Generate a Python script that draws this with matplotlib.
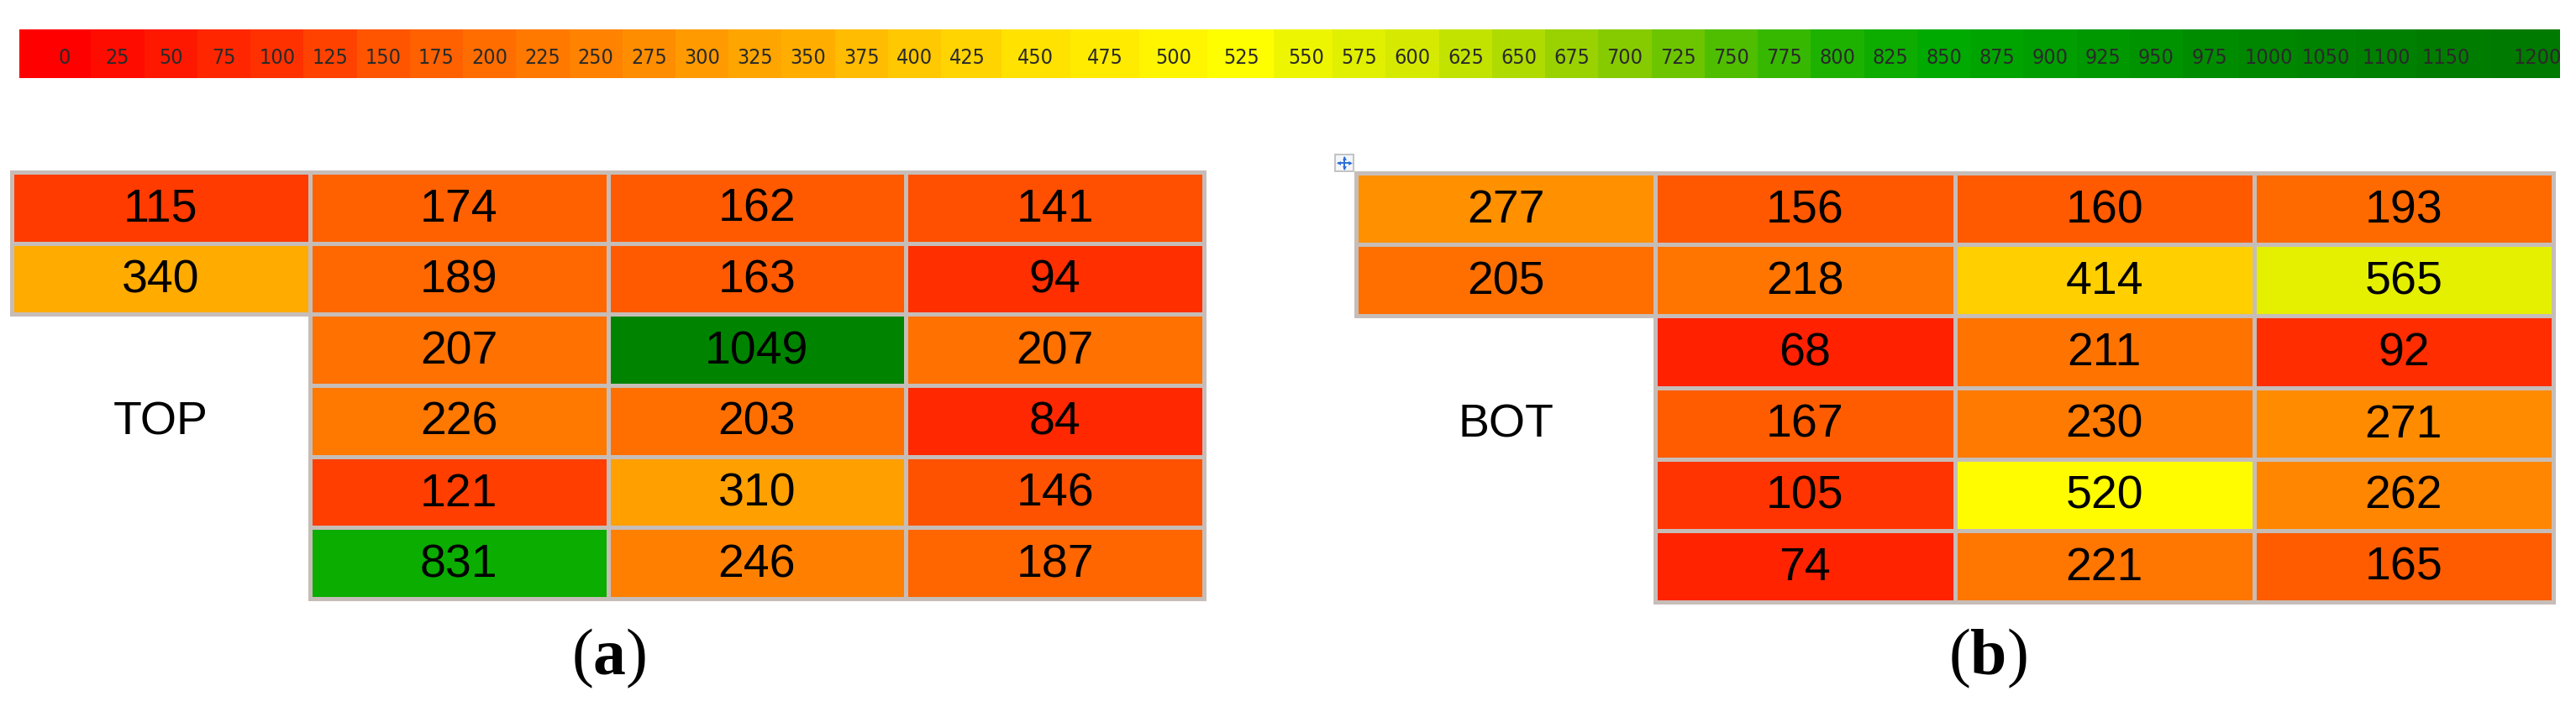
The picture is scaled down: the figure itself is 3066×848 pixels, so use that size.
import numpy as np
import matplotlib
matplotlib.use('Agg')
import matplotlib.pyplot as plt
from matplotlib.colors import LinearSegmentedColormap, Normalize
from matplotlib import font_manager
from matplotlib.patches import Rectangle

# ---------------- data ----------------
scale_labels = [0, 25, 50, 75, 100, 125, 150, 175, 200, 225, 250, 275, 300, 325, 350,
                375, 400, 425, 450, 475, 500, 525, 550, 575, 600, 625, 650, 675, 700,
                725, 750, 775, 800, 825, 850, 875, 900, 925, 950, 975, 1000, 1050,
                1100, 1150, 1200]

nan = np.nan
top_values = [[115, 174, 162, 141],
              [340, 189, 163, 94],
              [nan, 207, 1049, 207],
              [nan, 226, 203, 84],
              [nan, 121, 310, 146],
              [nan, 831, 246, 187]]
bot_values = [[277, 156, 160, 193],
              [205, 218, 414, 565],
              [nan, 68, 211, 92],
              [nan, 167, 230, 271],
              [nan, 105, 520, 262],
              [nan, 74, 221, 165]]
panel_names = ['TOP', 'BOT']
panel_letters = ['a', 'b']

# ---------------- style ----------------
W, H = 3066, 848
stop_vals = [0, 100, 150, 200, 250, 300, 350, 400, 450, 525, 565, 600, 700, 800, 850, 1000, 1200]
stop_cols = [(255, 0, 0), (255, 50, 0), (255, 85, 0), (255, 110, 0), (255, 130, 0),
             (255, 155, 0), (255, 175, 0), (255, 200, 0), (255, 225, 0), (255, 255, 0),
             (228, 240, 0), (215, 235, 0), (135, 203, 0), (30, 178, 0), (0, 170, 0),
             (0, 135, 0), (0, 122, 0)]
vmin, vmax = 0, 1200
cmap = LinearSegmentedColormap.from_list(
    'rdylgn_custom',
    [((v - vmin) / (vmax - vmin), tuple(c / 255 for c in col)) for v, col in zip(stop_vals, stop_cols)])
norm = Normalize(vmin, vmax)

# spacing of the scale labels (relative gaps between neighbours)
gaps = [1.0] * 17 + [1.28, 1.31, 1.28, 1.28, 1.22] + [1.0] * 17 + [1.12, 1.07, 1.14, 1.12, 1.72]

# find a narrow / condensed font for the scale labels
narrow_prop = None
cands = font_manager.findSystemFonts()
for key in ['LiberationSansNarrow-Regular', 'DejaVuSansCondensed.', 'Roboto_Condensed-Regular',
            'RobotoCondensed-Regular', 'OpenSans_Condensed-Regular', 'OpenSansCondensed',
            'NotoSans-Condensed.', 'NotoSansDisplay-Condensed', 'Condensed-Regular', 'Narrow']:
    hits = [f for f in cands if key in f.split('/')[-1]]
    if hits:
        narrow_prop = font_manager.FontProperties(fname=sorted(hits)[0])
        break
if narrow_prop is None:
    narrow_prop = font_manager.FontProperties(family='DejaVu Sans')
narrow_prop.set_size(18)

cell_font = 'Liberation Sans'
grid_col = (0.78, 0.74, 0.72)

plt.rcParams['mathtext.fontset'] = 'custom'
plt.rcParams['mathtext.rm'] = 'Liberation Serif'
plt.rcParams['mathtext.bf'] = 'Liberation Serif:bold'

fig = plt.figure(figsize=(W / 100, H / 100), dpi=100)
fig.patch.set_facecolor('white')


def px_axes(x0, y0, x1, y1):
    return fig.add_axes([x0 / W, 1 - y1 / H, (x1 - x0) / W, (y1 - y0) / H])


# ---------------- colour scale bar ----------------
ax_cb = px_axes(23, 35, 3047, 93)
pos = np.concatenate([[0], np.cumsum(gaps)])
left_pad, right_pad = 0.85, 0.43
edges = np.concatenate([[pos[0] - left_pad], (pos[:-1] + pos[1:]) / 2, [pos[-1] + right_pad]])
ax_cb.pcolormesh(edges, [0, 1], np.array([scale_labels], dtype=float), cmap=cmap, norm=norm,
                 shading='flat', edgecolors='none')
ax_cb.set_xlim(edges[0], edges[-1])
ax_cb.set_ylim(0, 1)
for p, lab in zip(pos, scale_labels):
    ax_cb.text(p, 0.42, str(lab), ha='center', va='center', fontproperties=narrow_prop,
               color='#2a2a2a')
ax_cb.axis('off')

# ---------------- tables ----------------
table_boxes = [(14, 205, 1433, 713), (1614, 206, 3039, 717)]
for vals, name, box in zip([top_values, bot_values], panel_names, table_boxes):
    arr = np.array(vals, dtype=float)
    ax = px_axes(*box)
    nrow, ncol = arr.shape
    for i in range(nrow):
        for j in range(ncol):
            v = arr[i, j]
            if np.isnan(v):
                continue
            ax.add_patch(Rectangle((j, i), 1, 1, facecolor=cmap(norm(v)),
                                   edgecolor=grid_col, linewidth=3.6, clip_on=False))
            ax.text(j + 0.5, i + 0.53, f'{int(v)}', ha='center', va='center',
                    fontsize=40, family=cell_font, color='black')
    ax.text(0.5, 3.53, name, ha='center', va='center', fontsize=40, family=cell_font,
            color='black')
    ax.set_xlim(0, ncol)
    ax.set_ylim(nrow, 0)
    ax.axis('off')

# ---------------- panel letters ----------------
for letter, xc in zip(panel_letters, [725, 2366]):
    fig.text(xc / W, 1 - 784 / H, r'$\mathrm{(}\mathbf{' + letter + r'}\mathrm{)}$',
             ha='center', va='center', fontsize=56, color='black')

# ---------------- small table-move handle icon ----------------
ax_ic = px_axes(1588, 183, 1612, 205)
ax_ic.add_patch(Rectangle((-1, -1), 2, 2, facecolor='#f4f6fa', edgecolor='#c4c4c4', lw=1.5))
ax_ic.plot([-0.65, 0.65], [0, 0], color='#2f6fd6', lw=1.4)
ax_ic.plot([0, 0], [-0.65, 0.65], color='#2f6fd6', lw=1.4)
for mx, my, mk in [(0.62, 0, '>'), (-0.62, 0, '<'), (0, 0.62, '^'), (0, -0.62, 'v')]:
    ax_ic.plot(mx, my, marker=mk, ms=3.5, color='#2f6fd6', mew=0)
ax_ic.set_xlim(-1.1, 1.1)
ax_ic.set_ylim(-1.1, 1.1)
ax_ic.axis('off')

fig.savefig('out.png', dpi=100, facecolor='white')
